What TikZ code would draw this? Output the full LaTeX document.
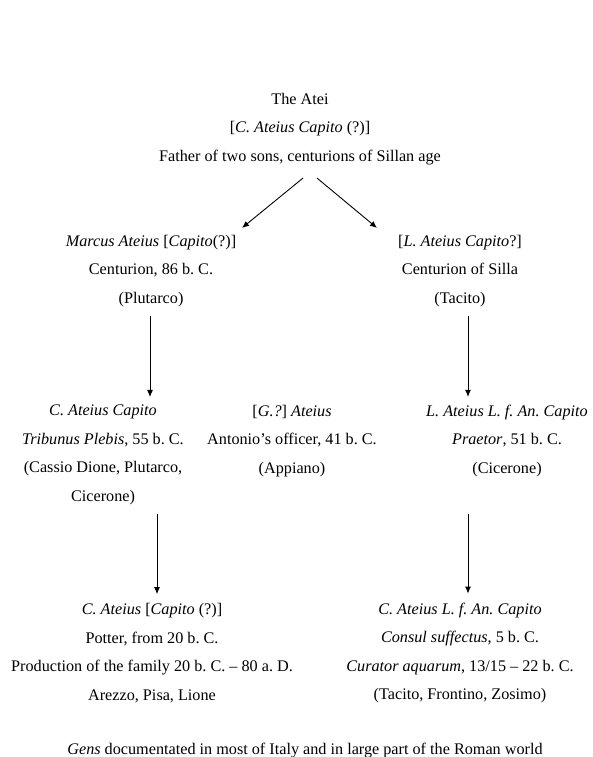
\documentclass[tikz,border=0pt]{standalone}
\usepackage{fontspec}
\setmainfont{Liberation Serif}
\usetikzlibrary{arrows.meta}
\usetikzlibrary{positioning}

\begin{document}
\frenchspacing
\begin{tikzpicture}[x=1pt,y=1pt,node distance=142pt,main node/.style={align=center, inner sep=0pt, font=\fontsize{16.2}{28.5}\selectfont},line/.style={-{Latex[length=7pt,width=6pt]}, line width=0.9pt}]

			\useasboundingbox (0,0) rectangle (592,-757);
			
			\node[main node] (1) at (300,-129) {The Atei\\ {[}\textit{C. Ateius Capito} (?)]\\ Father of two sons, centurions of Sillan age};
			\node[main node] (2) [below of=1, xshift = -149pt] {\textit{Marcus Ateius} [\textit{Capito}(?)]\\ Centurion, 86 b. C.\\ (Plutarco)};
			\node[main node] (3) [below of=1, xshift = 160pt] {{[}\textit{L. Ateius Capito}?]\\ Centurion of Silla\\ (Tacito)};
			\node[main node] (4) [below of=2, xshift = -48pt, yshift = -42pt] {\textit{C. Ateius Capito}\\ \textit{Tribunus Plebis}, 55 b. C.\hspace*{12pt}\\ (Cassio Dione, Plutarco,\\ Cicerone)};
			\node[main node] (5) [below of=2, xshift = 141pt, yshift = -28pt] {{[}\textit{G.?}] \textit{Ateius}\\ Antonio's officer, 41 b. C.\\ (Appiano)};
			\node[main node] (6) [below of=3, xshift = 47pt, yshift = -28pt] {\textit{L. Ateius L. f. An. Capito}\\ \textit{Praetor}, 51 b. C.\\ (Cicerone)};
			\node[main node] (7) [below of=4, xshift = 49pt, yshift = -56pt] {\textit{C. Ateius} [\textit{Capito} (?)]\\ Potter, from 20 b. C.\\ Production of the family 20 b. C. -- 80 a. D.\\ Arezzo, Pisa, Lione};
			\node[main node] (8) [below of=6, xshift = -47pt, yshift = -70pt] {\textit{C. Ateius L. f. An. Capito}\\ \textit{Consul suffectus}, 5 b. C.\\ \textit{Curator aquarum}, 13/15 -- 22 b. C.\\ (Tacito, Frontino, Zosimo)};
			\node[main node] (9) [below of=7, xshift = 153pt, yshift = 44pt] {\textit{Gens} documentated in most of Italy and in large part of the Roman world};
			
			
			
			\path[line]
			([xshift = 3pt, yshift = -13pt]1.south) edge ([xshift = 91pt, yshift = 7pt]2.north)
			([xshift = 17pt, yshift = -13pt]1.south) edge ([xshift = -83pt, yshift = 7pt]3.north)
			
			([xshift = -1pt, yshift = -9pt]2.south) edge ([xshift = -1pt, yshift = 8pt]2.south |- 4.north)
			([xshift = 8pt, yshift = -9pt]3.south) edge ([xshift = 8pt, yshift = 8pt]3.south |- 6.north)
			
			([xshift = 54pt, yshift = -9pt]4.south) edge ([xshift = 54pt, yshift = 9pt]4.south |- 7.north)
			([xshift = -39pt, yshift = -37pt]6.south) edge ([xshift = -39pt, yshift = 9pt]6.south |- 8.north);
			
		\end{tikzpicture}
\end{document}
